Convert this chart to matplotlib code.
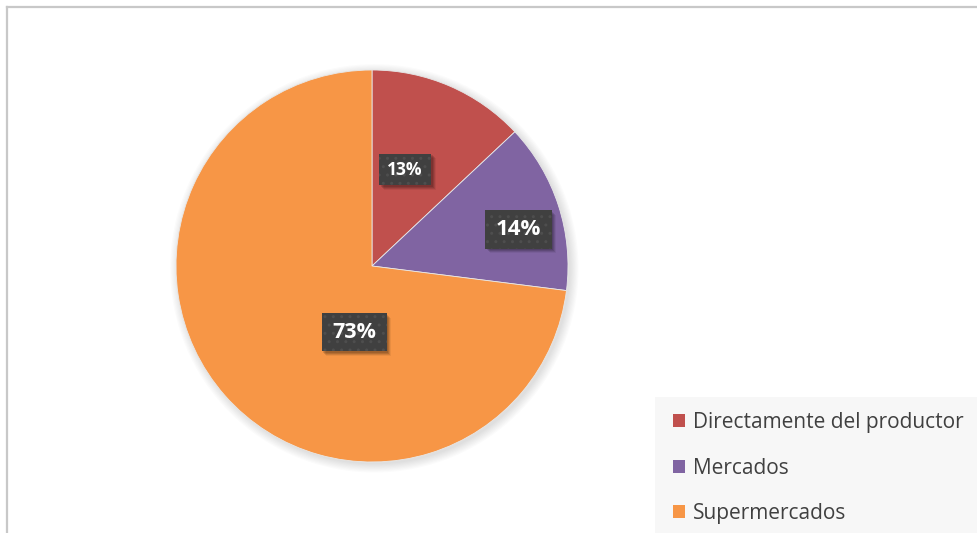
import numpy as np
import matplotlib.pyplot as plt
from matplotlib.patches import Patch, Circle, Rectangle
from matplotlib.lines import Line2D
from matplotlib.transforms import IdentityTransform

# data
categories = ["Directamente del productor", "Mercados", "Supermercados"]
values = [13, 14, 73]
colors = ["#C0504D", "#8064A2", "#F79646"]

# label placement (radius fraction, angle in degrees) and font size, as Excel put them
label_pos = [(0.52, 71), (0.77, 14), (0.35, 255)]
label_size = [12.5, 16, 15.5]

plt.rcParams['font.family'] = ['Open Sans', 'DejaVu Sans']

W, H = 978, 533
fig = plt.figure(figsize=(W / 100, H / 100), dpi=100)
fig.patch.set_facecolor("white")

# outer chart border (top and left visible only)
fig.add_artist(Line2D([7 / W, 7 / W], [0, 1 - 7 / H], transform=fig.transFigure,
                      color="#C8C8C8", lw=1.6))
fig.add_artist(Line2D([7 / W, 1], [1 - 7 / H, 1 - 7 / H], transform=fig.transFigure,
                      color="#C8C8C8", lw=1.6))

cx, cy, r = 372, 266, 196
ax = fig.add_axes([(cx - r) / W, (H - cy - r) / H, 2 * r / W, 2 * r / H])

# soft shadow behind pie
for i in range(8):
    ax.add_patch(Circle((0.012, -0.012), 1.0 + 0.006 * i, color="black",
                        alpha=0.016, lw=0, zorder=0, clip_on=False))

wedges, _ = ax.pie(values, colors=colors, startangle=90, counterclock=False,
                   radius=1.0, wedgeprops=dict(edgecolor="#E8E8E8", linewidth=0.6))
for w in wedges:
    w.set_zorder(2)
ax.set_xlim(-1, 1)
ax.set_ylim(-1, 1)
ax.set_aspect("equal")
ax.axis("off")

# data labels (text first, boxes sized around them after a draw)
labels = []
for (rr, ang), v, fs in zip(label_pos, values, label_size):
    x = rr * np.cos(np.radians(ang))
    y = rr * np.sin(np.radians(ang))
    t = fig.text(x, y, f"{v}%", ha="center", va="center", color="white",
                 fontsize=fs, fontweight="bold", zorder=4, transform=ax.transData)
    labels.append((t, fs))

fig.canvas.draw()
renderer = fig.canvas.get_renderer()
for t, fs in labels:
    bb = t.get_window_extent(renderer)
    pad = 0.48 * fs * 100 / 72
    x0, y0 = bb.x0 - pad, bb.y0 - pad * 0.8
    w, h = bb.width + 2 * pad, bb.height + 1.6 * pad
    for k, a in [(1.5, 0.12), (2.5, 0.12), (3.5, 0.10), (4.5, 0.06)]:
        fig.add_artist(Rectangle((x0 + k, y0 - k), w, h, transform=IdentityTransform(),
                                 facecolor="black", alpha=a, lw=0, zorder=2))
    fig.add_artist(Rectangle((x0, y0), w, h, transform=IdentityTransform(),
                             facecolor="#404040", edgecolor="#4E4E4E", hatch="..",
                             lw=0, zorder=3))

# legend area
fig.add_artist(Rectangle((655 / W, 0), 1 - 655 / W, 1 - 397 / H,
                         transform=fig.transFigure, facecolor="#F7F7F7",
                         lw=0, zorder=0.5))
handles = [Patch(facecolor=c, edgecolor="none") for c in colors]
leg = fig.legend(handles, categories, loc="upper left",
                 bbox_to_anchor=(673 / W, 1 - 412 / H),
                 borderaxespad=0, frameon=False, fontsize=15,
                 handlelength=0.6, handleheight=0.6, handletextpad=0.35,
                 labelspacing=1.18, borderpad=0)
for txt in leg.get_texts():
    txt.set_color("#404040")

fig.savefig("out.png", dpi=100)
